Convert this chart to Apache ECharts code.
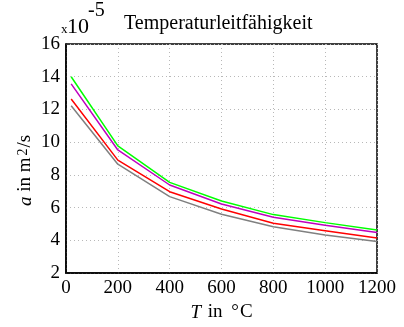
<!DOCTYPE html>
<html>
<head>
<meta charset="utf-8">
<script src="https://cdn.jsdelivr.net/npm/echarts@6/dist/echarts.min.js"></script>
<style>
  html, body { margin: 0; padding: 0; background: #fff; }
  #chart { width: 404px; height: 327px; }
</style>
</head>
<body>
<div id="chart"></div>
<script>
// temperatures in °C
const temps = [20, 200, 400, 600, 800, 1000, 1200];
// a in 1e-5 m^2/s
const seriesGreen = [14.0, 9.77, 7.54, 6.40, 5.57, 5.08, 4.63];
const seriesMagenta = [13.56, 9.52, 7.38, 6.22, 5.41, 4.92, 4.47];
const seriesRed = [12.64, 8.9, 6.97, 5.91, 5.04, 4.59, 4.14];
const seriesGray = [12.23, 8.65, 6.67, 5.59, 4.83, 4.33, 3.92];

const font = 'Liberation Serif';

const pairs = arr => temps.map((t, i) => [t, arr[i]]);

const mkLine = (name, data, color) => ({
  name: name,
  type: 'line',
  data: pairs(data),
  showSymbol: false,
  lineStyle: { color: color, width: 1.5 },
  itemStyle: { color: color },
  animation: false
});

const txt = (s, size, x, y) => ({
  type: 'text', left: x, top: y, silent: true,
  style: { text: s, fontFamily: font, fontSize: size, fill: '#000' }
});

const chart = echarts.init(document.getElementById('chart'));
chart.setOption({
  backgroundColor: '#fff',
  textStyle: { fontFamily: font },
  title: {
    text: 'Temperaturleitfähigkeit',
    left: 119, top: 9,
    textStyle: { fontFamily: font, fontSize: 20, fontWeight: 'normal', color: '#000' }
  },
  // axis exponent label "x10^-5"
  graphic: [
    txt('x', 13, 61, 23),
    txt('10', 22, 67, 16),
    txt('-5', 20, 88, 1)
  ],
  grid: {
    left: 66, right: 27, top: 44, bottom: 54,
    show: true, borderColor: '#000', borderWidth: 1.5, backgroundColor: '#fff'
  },
  xAxis: {
    type: 'value',
    min: 0, max: 1200, interval: 200,
    name: '{i|T} in {d|°}C',
    nameLocation: 'middle',
    nameGap: 30,
    nameMoveOverlap: false,
    nameTextStyle: {
      fontFamily: font, fontSize: 19, color: '#000',
      rich: {
        i: { fontFamily: font, fontSize: 19, fontStyle: 'italic', color: '#000', padding: [0, 2, 0, 0] },
        d: { fontFamily: font, fontSize: 19, color: '#000', padding: [0, 1, 0, 4] }
      }
    },
    axisLine: { show: true, lineStyle: { color: '#000', width: 1.5 } },
    axisTick: { show: false },
    axisLabel: { fontFamily: font, fontSize: 19, color: '#000', margin: 6, formatter: v => String(v) },
    splitLine: { show: true, lineStyle: { color: '#b8b8b8', type: [1, 3], width: 1 } }
  },
  yAxis: {
    type: 'value',
    min: 2, max: 16, interval: 2,
    name: '{i|a} in m{s|2}/s{g|\u00a0\u00a0\u00a0\u00a0\u00a0}',
    nameLocation: 'middle',
    nameGap: 31,
    nameRotate: 90,
    nameMoveOverlap: false,
    nameTextStyle: {
      fontFamily: font, fontSize: 19, color: '#000',
      rich: {
        i: { fontFamily: font, fontSize: 19, fontStyle: 'italic', color: '#000' },
        s: { fontFamily: font, fontSize: 14, color: '#000', verticalAlign: 'top', padding: [0, 1, 0, 2] },
        g: { fontFamily: font, fontSize: 19, color: 'rgba(0,0,0,0)' }
      }
    },
    axisLine: { show: true, lineStyle: { color: '#000', width: 1.5 } },
    axisTick: { show: false },
    axisLabel: { fontFamily: font, fontSize: 19, color: '#000', margin: 6 },
    splitLine: { show: true, lineStyle: { color: '#b8b8b8', type: [1, 3], width: 1 } }
  },
  series: [
    mkLine('grau', seriesGray, '#808080'),
    mkLine('rot', seriesRed, '#ff0000'),
    mkLine('magenta', seriesMagenta, '#bf00bf'),
    mkLine('grün', seriesGreen, '#00ff00')
  ]
});
</script>
</body>
</html>
